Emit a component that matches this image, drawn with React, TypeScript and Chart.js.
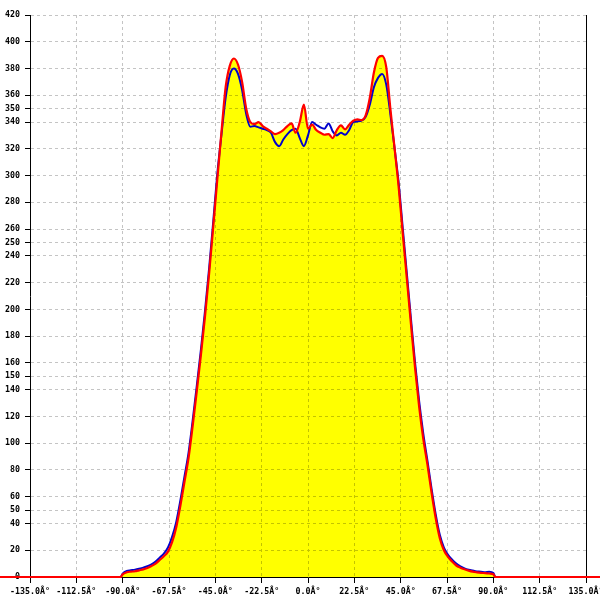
import React, { useEffect, useRef } from "react";
import { Chart, registerables } from "chart.js";

Chart.register(...registerables);

const angles = [
  -150, -91,
  -90, -88, -86, -84, -82, -80, -78, -76, -74, -72, -70, -68, -66, -64, -62, -60,
  -58, -56, -54, -52, -50, -48, -46, -44, -42, -40, -38, -36, -34, -32, -30, -28,
  -26, -24, -22, -20, -18, -16, -14, -12, -10, -8, -6, -4, -2, 0, 2, 4,
  6, 8, 10, 12, 14, 16, 18, 20, 22, 24, 26, 28, 30, 32, 34, 36,
  38, 40, 42, 44, 46, 48, 50, 52, 54, 56, 58, 60, 62, 64, 66, 68,
  70, 72, 74, 76, 78, 80, 82, 84, 86, 88, 90,
  91, 150,
];

const redValues = [
  0, 0,
  2, 3.5, 4, 4.3, 5, 5.7, 6.8, 8.2, 10, 12.7, 15.5, 19, 26, 37, 53, 71,
  89, 113, 139, 166, 195, 227, 262, 298, 333, 366, 382, 387.5, 383, 370, 350, 340,
  338.5, 340, 337, 335, 333, 331, 332, 334, 337, 339, 332, 340, 353, 335, 338, 334,
  332, 330.5, 331, 328, 334, 337.5, 334.5, 338, 341, 342, 341.5, 345, 358, 377, 388, 389.5,
  381, 350, 321, 292, 257, 223, 189, 156, 127, 103, 84, 63, 44, 29, 20, 15,
  11.5, 8.6, 7, 5.8, 4.8, 4, 3.5, 3.1, 2.9, 2.6, 2,
  0, 0,
];

const blueValues = [
  0, 0,
  2.5, 4.5, 5, 5.5, 6.2, 7, 8, 9.5, 11.5, 14.5, 17.5, 22, 30, 41, 57, 75,
  93, 117, 143, 170, 199, 231, 266, 302, 331, 358, 375, 380, 376, 364, 346, 336.5,
  337, 336, 335, 334, 332, 325, 322, 327, 331, 334, 335, 328, 322, 330, 340, 338,
  336, 335, 339, 333, 330, 332, 330.5, 334, 340, 340.5, 341, 344, 353, 366, 373, 376,
  368, 346, 321, 295, 261, 227, 193, 160, 131, 107, 87, 66, 47, 31.5, 22, 16.5,
  13, 10, 8, 6.5, 5.5, 4.8, 4.2, 4, 3.5, 4, 3,
  0, 0,
];

const yTickValues = [
  0, 20, 40, 50, 60, 80, 100, 120, 140, 150, 160, 180, 200, 220, 240, 250, 260,
  280, 300, 320, 340, 350, 360, 380, 400, 420,
];

const xMin = -135;
const xMax = 135;
const xStep = 22.5;
const degreeSuffix = "Â°";

const tickFont = { family: "'DejaVu Sans Mono', monospace", size: 8.3, weight: "bold" as const };

export default function App() {
  const canvasRef = useRef<HTMLCanvasElement | null>(null);

  useEffect(() => {
    const canvas = canvasRef.current;
    if (!canvas) return;
    const toPoints = (vals: number[]) => angles.map((a, i) => ({ x: a, y: vals[i] }));

    const gridOverFill = {
      id: "gridOverFill",
      afterDatasetDraw(chart: any, args: any) {
        if (args.index !== 0) return;
        const ctx = chart.ctx;
        ctx.save();
        ctx.globalCompositeOperation = "darken";
        chart.scales.x.drawGrid(chart.chartArea);
        chart.scales.y.drawGrid(chart.chartArea);
        ctx.restore();
      },
    };

    const chart = new Chart(canvas, {
      type: "line",
      data: {
        datasets: [
          {
            data: toPoints(redValues),
            borderWidth: 0,
            pointRadius: 0,
            fill: "origin",
            backgroundColor: "#ffff00",
            cubicInterpolationMode: "monotone",
            order: 3,
          },
          {
            data: toPoints(blueValues),
            borderColor: "#0000cc",
            borderWidth: 2,
            pointRadius: 0,
            fill: false,
            cubicInterpolationMode: "monotone",
            clip: false,
            order: 2,
          },
          {
            data: toPoints(redValues),
            borderColor: "#ff0000",
            borderWidth: 2.2,
            pointRadius: 0,
            fill: false,
            cubicInterpolationMode: "monotone",
            clip: false,
            order: 1,
          },
        ],
      },
      options: {
        responsive: false,
        animation: false,
        layout: { padding: { top: 15, right: 14, left: 0, bottom: 0 } },
        plugins: {
          legend: { display: false },
          tooltip: { enabled: false },
        },
        scales: {
          x: {
            type: "linear",
            min: xMin,
            max: xMax,
            afterFit: (s: any) => {
              s.height = 23;
              s.paddingLeft = 0;
              s.paddingRight = 0;
            },
            ticks: {
              stepSize: xStep,
              autoSkip: false,
              maxRotation: 0,
              minRotation: 0,
              padding: 4,
              color: "#000",
              font: tickFont,
              callback: (v: any) => Number(v).toFixed(1) + degreeSuffix,
            },
            grid: {
              color: "#c4c4c4",
              tickColor: "#000",
              tickLength: 6,
              tickBorderDash: [],
            },
            border: { display: true, color: "#000", width: 1, dash: [3, 3] },
          },
          y: {
            type: "linear",
            min: 0,
            max: 420,
            afterFit: (s: any) => {
              s.width = 30;
              s.paddingTop = 0;
              s.paddingBottom = 0;
            },
            afterBuildTicks: (s: any) => {
              s.ticks = yTickValues.map((v) => ({ value: v }));
            },
            ticks: {
              autoSkip: false,
              padding: 5,
              color: "#000",
              font: tickFont,
            },
            grid: {
              color: "#c4c4c4",
              tickColor: "#000",
              tickLength: 5,
              tickBorderDash: [],
            },
            border: { display: true, color: "#000", width: 1, dash: [3, 3] },
          },
          yRight: {
            type: "linear",
            position: "right",
            min: 0,
            max: 420,
            afterFit: (s: any) => {
              s.width = 0;
              s.paddingTop = 0;
              s.paddingBottom = 0;
            },
            ticks: { display: false },
            grid: { display: false },
            border: { display: true, color: "#000", width: 1 },
          },
        },
      },
      plugins: [gridOverFill],
    });

    return () => chart.destroy();
  }, []);

  return (
    <div style={{ position: "absolute", left: 0, top: 0, width: 600, height: 600, background: "#fff" }}>
      <canvas ref={canvasRef} width={600} height={600} />
    </div>
  );
}
